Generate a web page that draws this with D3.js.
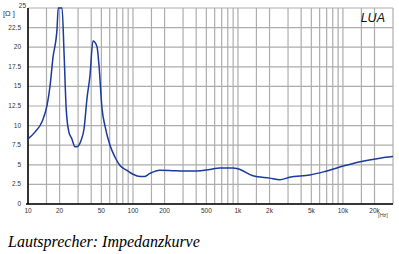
<!DOCTYPE html>
<html>
<head>
<meta charset="utf-8">
<script src="https://cdn.jsdelivr.net/npm/d3@7"></script>
<style>
  body { margin: 0; background: #fff; }
  svg { display: block; }
</style>
</head>
<body>
<script>
const width = 399;
const height = 254;

// Impedanz, gelesen aus dem Bild
const freq = [10, 11.7, 13.6, 15.2, 16.2, 17.3, 18.9, 19.4, 21.1, 22.1, 23.1, 24.5, 26.2, 28, 29.3,
    32, 34.2, 36.5, 38.9, 41.6, 45.4, 47.5, 50.7, 54.2, 60.4, 67.3, 75.2, 87.6, 100, 117, 128,
    145, 180, 239, 298, 405, 539, 671, 895, 1000, 1390, 2010, 2510, 3100, 4850, 6740, 10500,
    14600, 22600, 30000];
const ohm = [8.3, 9.2, 10.5, 12.6, 15, 18.7, 22.3, 25, 25, 18.9, 12.2, 9.2, 8.3, 7.3, 7.3,
    8.1, 9.6, 13.5, 16.3, 20.8, 20.1, 17.6, 12.2, 9.9, 7.5, 6.0, 4.9, 4.3, 3.8, 3.5, 3.5,
    3.9, 4.3, 4.25, 4.2, 4.2, 4.4, 4.6, 4.6, 4.5, 3.6, 3.3, 3.1, 3.4, 3.7, 4.15, 4.9,
    5.4, 5.85, 6.05];

const xTickVals = [10, 20, 50, 100, 200, 500, 1000, 2000, 5000, 10000, 20000];
const xTickLabels = ["10", "20", "50", "100", "200", "500", "1k", "2k", "5k", "10k", "20k"];
const yTickVals = [0, 2.5, 5, 7.5, 10, 12.5, 15, 17.5, 20, 22.5, 25];
const yTickLabels = ["0", "2.5", "5", "7.5", "10", "12.5", "15", "17.5", "20", "22.5", "25"];
const gridSteps = [1, 1.5, 2, 3, 4, 5, 6, 7, 8, 9];

const x = d3.scaleLog().domain([10, 30000]).range([28, 393]);
const y = d3.scaleLinear().domain([0, 25]).range([204, 8]);

let svg = d3.select("body").append("svg")
    .attr("width", width)
    .attr("height", height)

let gridG = svg.append("g")

// vertikale Gitterlinien
let gridF = [];
[10, 100, 1000, 10000].forEach(function (dec) {
    gridSteps.forEach(function (s) {
        if (dec * s <= 30000) gridF.push(dec * s);
    })
})
gridG.selectAll("line.v")
    .data(gridF)
    .enter()
    .append("line")
    .attr("x1", d => x(d))
    .attr("x2", d => x(d))
    .attr("y1", y(25))
    .attr("y2", y(0))
    .attr("stroke", "#adadad")
    .attr("stroke-width", 1.2)

gridG.selectAll("line.h")
    .data(yTickVals)
    .enter()
    .append("line")
    .attr("x1", x(10))
    .attr("x2", x(30000))
    .attr("y1", d => y(d))
    .attr("y2", d => y(d))
    .attr("stroke", "#adadad")
    .attr("stroke-width", 1.2)

// Achsen
svg.append("line")
    .attr("x1", x(10)).attr("x2", x(10))
    .attr("y1", y(25)).attr("y2", y(0))
    .attr("stroke", "#000").attr("stroke-width", 1.5)
svg.append("line")
    .attr("x1", x(10) - 2).attr("x2", x(30000))
    .attr("y1", y(0)).attr("y2", y(0))
    .attr("stroke", "#000").attr("stroke-width", 1.5)

svg.selectAll("text.xt")
    .data(xTickVals)
    .enter()
    .append("text")
    .attr("x", d => x(d))
    .attr("y", 213)
    .attr("text-anchor", "middle")
    .attr("font-family", "Liberation Sans, Arial, sans-serif")
    .attr("font-size", 6.5)
    .attr("fill", "#333")
    .text((d, i) => xTickLabels[i])

svg.selectAll("text.yt")
    .data(yTickVals.slice(0, 10))
    .enter()
    .append("text")
    .attr("x", 21)
    .attr("y", d => y(d) + 2)
    .attr("text-anchor", "end")
    .attr("font-family", "Liberation Sans, Arial, sans-serif")
    .attr("font-size", 6.5)
    .attr("fill", "#333")
    .text((d, i) => yTickLabels[i])

// "25" sitzt etwas höher
svg.append("text")
    .attr("x", 26).attr("y", y(25))
    .attr("text-anchor", "end")
    .attr("font-family", "Liberation Sans, Arial, sans-serif")
    .attr("font-size", 6.5)
    .attr("fill", "#333")
    .text(yTickLabels[10])

svg.append("text")
    .attr("x", 3).attr("y", 16)
    .attr("font-family", "Liberation Sans, Arial, sans-serif")
    .attr("font-size", 7.5)
    .attr("fill", "#333")
    .text("[Ω ]")

svg.append("text")
    .attr("x", 383).attr("y", 217)
    .attr("text-anchor", "middle")
    .attr("font-family", "Liberation Sans, Arial, sans-serif")
    .attr("font-size", 5.5)
    .attr("fill", "#444")
    .text("[Hz]")

svg.append("text")
    .attr("x", 385).attr("y", 22)
    .attr("text-anchor", "end")
    .attr("font-family", "Liberation Sans, Arial, sans-serif")
    .attr("font-style", "italic")
    .attr("font-size", 12.5)
    .attr("fill", "#111")
    .text("LUA")

// Kurve
let line = d3.line()
    .x(d => x(d[0]))
    .y(d => y(d[1]))
    .curve(d3.curveMonotoneX)

svg.append("path")
    .datum(freq.map((f, i) => [f, ohm[i]]))
    .attr("d", line)
    .attr("fill", "none")
    .attr("stroke", "#1b3a9c")
    .attr("stroke-width", 1.5)

svg.append("text")
    .attr("x", 8).attr("y", 247)
    .attr("font-family", "Liberation Serif, serif")
    .attr("font-style", "italic")
    .attr("font-size", 16)
    .attr("fill", "#000")
    .text("Lautsprecher: Impedanzkurve")
</script>
</body>
</html>
